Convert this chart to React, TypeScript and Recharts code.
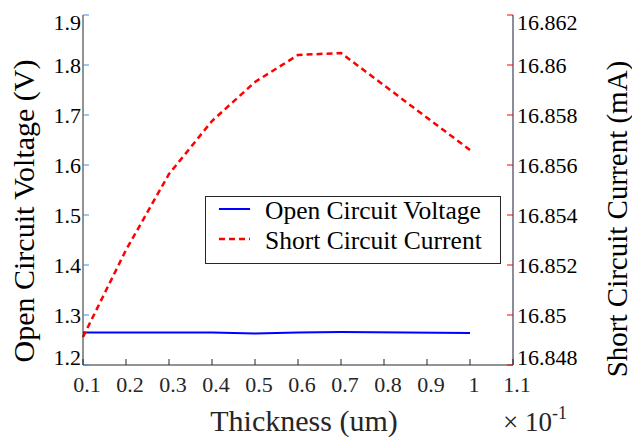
import { LineChart, Line, XAxis, YAxis, Legend } from 'recharts';

const thickness = [0.1, 0.2, 0.3, 0.4, 0.5, 0.6, 0.7, 1.0];
const openCircuitVoltage = [1.265, 1.265, 1.265, 1.265, 1.263, 1.265, 1.266, 1.264];
const shortCircuitCurrent = [16.84912, 16.8526, 16.85564, 16.85776, 16.85932, 16.8604, 16.86048, 16.8566];

const xTicks = [0.1, 0.2, 0.3, 0.4, 0.5, 0.6, 0.7, 0.8, 0.9, 1.0, 1.1];
const voltageTicks = [1.2, 1.3, 1.4, 1.5, 1.6, 1.7, 1.8, 1.9];
const currentTicks = [16.848, 16.85, 16.852, 16.854, 16.856, 16.858, 16.86, 16.862];

const data = thickness.map((t, i) => ({
  t,
  voc: openCircuitVoltage[i],
  isc: shortCircuitCurrent[i],
}));

const font = "Liberation Serif, Nimbus Roman, Times New Roman, DejaVu Serif, serif";

const fmt = (v: number) => String(parseFloat(v.toFixed(4)));

// x tick labels sit a few px right of the tick, like the matlab export
const XTick = (props: any) => {
  const { x, y, payload } = props;
  return (
    <text x={x + 4} y={y + 27} textAnchor="middle" fontFamily={font} fontSize={22} fill="#262626">
      {fmt(payload.value)}
    </text>
  );
};

// end labels get pushed inside the axes range
const makeYTick = (ticks: number[], anchor: 'start' | 'end', label: (v: number) => string) => (props: any) => {
  const { x, y, payload } = props;
  let dy = 8;
  if (payload.value === ticks[ticks.length - 1]) dy = 15;
  if (payload.value === ticks[0]) dy = 0;
  return (
    <text x={x} y={y + dy} textAnchor={anchor} fontFamily={font} fontSize={22} fill="#000">
      {label(payload.value)}
    </text>
  );
};

const VoltageTick = makeYTick(voltageTicks, 'end', (v) => v.toFixed(1));
const CurrentTick = makeYTick(currentTicks, 'start', fmt);

function LegendBox() {
  return (
    <div
      style={{
        border: '1px solid #262626',
        background: '#fff',
        width: 296,
        height: 68,
        boxSizing: 'border-box',
        position: 'relative',
      }}
    >
      <svg width={294} height={66} style={{ position: 'absolute', left: 0, top: 0 }}>
        <line x1={13} x2={44} y1={12} y2={12} stroke="#0000ff" strokeWidth={2} />
        <line x1={13} x2={44} y1={42} y2={42} stroke="#ff0000" strokeWidth={2.5} strokeDasharray="6 4" />
        <text x={59} y={22} fontFamily={font} fontSize={25.5}>Open Circuit Voltage</text>
        <text x={59} y={52} fontFamily={font} fontSize={25.5}>Short Circuit Current</text>
      </svg>
    </div>
  );
}

export default function App() {
  return (
    <div style={{ position: 'absolute', left: 0, top: 0, background: '#fff', fontFamily: font }}>
      <LineChart
        width={632}
        height={437}
        data={data}
        margin={{ top: 15, right: 0, bottom: 0, left: 0 }}
      >
        <XAxis
          xAxisId="bottom"
          dataKey="t"
          type="number"
          domain={[0.1, 1.1]}
          ticks={xTicks}
          height={72}
          stroke="#262626"
          tickSize={-6}
          tickMargin={6}
          tick={<XTick />}
          interval={0}
          label={{
            content: () => (
              <g fill="#262626">
                <text x={304} y={431} textAnchor="middle" fontFamily={font} fontSize={30}>
                  Thickness (um)
                </text>
                <text x={503} y={431} fontFamily={font} fontSize={27}>
                  × 10<tspan dy={-12} fontSize={18}>-1</tspan>
                </text>
              </g>
            ),
          }}
        />
        <XAxis
          xAxisId="top"
          orientation="top"
          dataKey="t"
          type="number"
          domain={[0.1, 1.1]}
          ticks={xTicks}
          height={0}
          stroke="#262626"
          tickSize={-6}
          tick={false}
          interval={0}
        />
        <YAxis
          yAxisId="v"
          orientation="left"
          domain={[1.2, 1.9]}
          ticks={voltageTicks}
          width={83}
          axisLine={{ stroke: '#262626' }}
          tickLine={{ stroke: '#3a8ee0' }}
          tickSize={-6}
          tickMargin={8}
          tick={<VoltageTick />}
          interval={0}
          label={{
            content: () => (
              <text
                x={34}
                y={211}
                transform="rotate(-90 34 211)"
                textAnchor="middle"
                fontFamily={font}
                fontSize={30}
                fill="#000"
              >
                Open Circuit Voltage (V)
              </text>
            ),
          }}
        />
        <YAxis
          yAxisId="i"
          orientation="right"
          domain={[16.848, 16.862]}
          ticks={currentTicks}
          width={119}
          axisLine={{ stroke: '#1a1a33' }}
          tickLine={{ stroke: '#ff0000' }}
          tickSize={-6}
          tickMargin={10}
          tick={<CurrentTick />}
          interval={0}
          label={{
            content: () => (
              <text
                x={627}
                y={219}
                transform="rotate(-90 627 219)"
                textAnchor="middle"
                fontFamily={font}
                fontSize={29}
                fill="#000"
              >
                Short Circuit Current (mA)
              </text>
            ),
          }}
        />
        <Legend
          layout="horizontal"
          verticalAlign="middle"
          content={() => <LegendBox />}
          wrapperStyle={{ position: 'absolute', left: 205, top: 196, width: 296, height: 68 }}
        />
        <Line
          xAxisId="bottom"
          yAxisId="v"
          dataKey="voc"
          stroke="#0000ff"
          strokeWidth={2}
          dot={false}
          type="linear"
          isAnimationActive={false}
        />
        <Line
          xAxisId="bottom"
          yAxisId="i"
          dataKey="isc"
          stroke="#ff0000"
          strokeWidth={2.5}
          strokeDasharray="6 4"
          dot={false}
          type="linear"
          isAnimationActive={false}
        />
      </LineChart>
    </div>
  );
}
